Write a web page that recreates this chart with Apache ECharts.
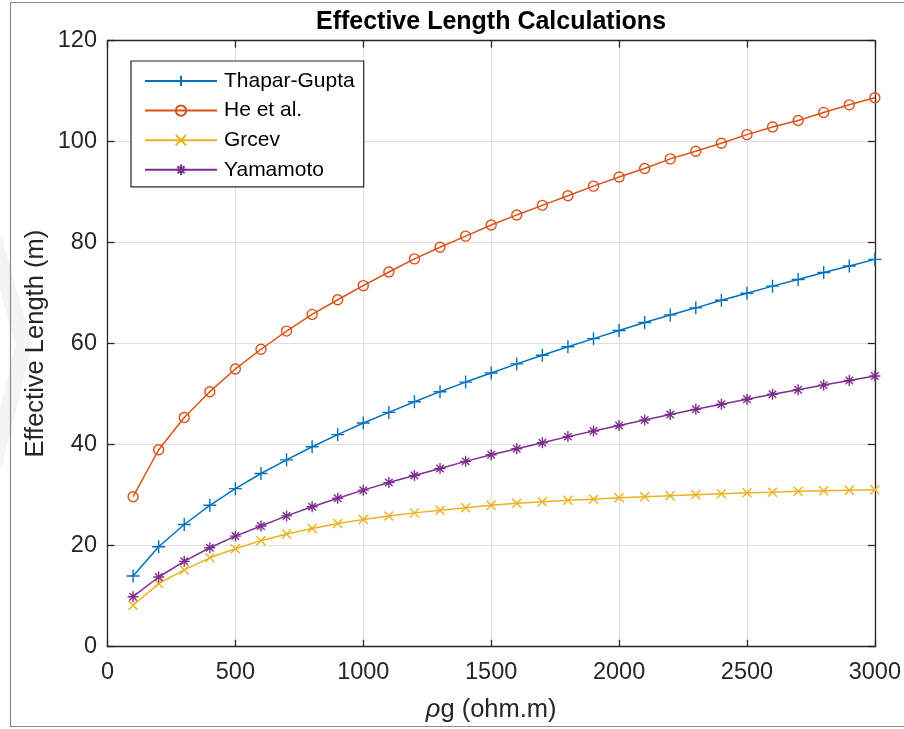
<!DOCTYPE html>
<html>
<head>
<meta charset="utf-8">
<script src="https://cdn.jsdelivr.net/npm/echarts@6/dist/echarts.min.js"></script>
<style>
  html, body { margin: 0; padding: 0; background: #fff; }
  #chart { width: 904px; height: 729px; }
</style>
</head>
<body>
<div id="chart"></div>
<script>
// Soil resistivity (ohm.m)
const rho = [100, 200, 300, 400, 500, 600, 700, 800, 900, 1000,
             1100, 1200, 1300, 1400, 1500, 1600, 1700, 1800, 1900, 2000,
             2100, 2200, 2300, 2400, 2500, 2600, 2700, 2800, 2900, 3000];

// Effective length (m) per method
const thaparGupta = [14.0, 19.8, 24.2, 28.0, 31.3, 34.3, 37.0, 39.6, 42.0, 44.3,
                     46.4, 48.5, 50.5, 52.4, 54.2, 56.0, 57.7, 59.4, 61.0, 62.6,
                     64.2, 65.7, 67.1, 68.6, 70.0, 71.4, 72.7, 74.1, 75.4, 76.7];
const heEtAl = [29.7, 39.0, 45.4, 50.5, 55.0, 58.9, 62.5, 65.8, 68.7, 71.5,
                74.2, 76.8, 79.1, 81.3, 83.5, 85.5, 87.4, 89.3, 91.2, 93.0,
                94.7, 96.6, 98.1, 99.7, 101.4, 102.9, 104.2, 105.8, 107.3, 108.7];
const grcev = [8.2, 12.5, 15.2, 17.6, 19.4, 21.0, 22.3, 23.4, 24.4, 25.2,
               25.9, 26.5, 27.0, 27.5, 28.0, 28.4, 28.7, 29.0, 29.2, 29.5,
               29.7, 29.9, 30.1, 30.3, 30.5, 30.6, 30.8, 30.9, 31.0, 31.1];
const yamamoto = [9.9, 13.8, 16.9, 19.6, 21.9, 23.9, 25.9, 27.7, 29.4, 31.0,
                  32.5, 33.9, 35.3, 36.7, 38.0, 39.2, 40.4, 41.6, 42.7, 43.8,
                  44.9, 46.0, 47.0, 48.0, 49.0, 50.0, 50.9, 51.8, 52.7, 53.6];

const xTicks = [0, 500, 1000, 1500, 2000, 2500, 3000];
const yTicks = [0, 20, 40, 60, 80, 100, 120];

const seriesNames = ['Thapar-Gupta', 'He et al.', 'Grcev', 'Yamamoto'];
const seriesValues = [thaparGupta, heEtAl, grcev, yamamoto];
const colors = ['#0072BD', '#D95319', '#EDB120', '#7E2F8E'];

// Stroke-only marker glyphs
const markers = [
  { symbol: 'path://M5,0 L5,10 M0,5 L10,5', size: 13 },
  { symbol: 'circle', size: 10 },
  { symbol: 'path://M0,0 L10,10 M0,10 L10,0', size: 9 },
  { symbol: 'path://M5,0 L5,10 M0,5 L10,5 M1.6,1.6 L8.4,8.4 M1.6,8.4 L8.4,1.6', size: 11 }
];

const FONT = '"Liberation Sans", Arial, sans-serif';
const AXIS_COLOR = '#262626';
const TICK_FONT = 23.5;
const LABEL_FONT = 25.5;

const chart = echarts.init(document.getElementById('chart'), null, { renderer: 'canvas' });

const series = seriesNames.map((name, i) => ({
  name: name,
  type: 'line',
  xAxisIndex: 0,
  yAxisIndex: 0,
  data: rho.map((r, k) => [r, seriesValues[i][k]]),
  symbol: markers[i].symbol,
  symbolSize: markers[i].size,
  showAllSymbol: true,
  smooth: false,
  lineStyle: { color: colors[i], width: 1.5 },
  itemStyle: { color: 'rgba(255,255,255,0)', borderColor: colors[i], borderWidth: 1.4 },
  emphasis: { disabled: true },
  animation: false,
  z: 3
}));

const baseAxisLabel = { color: AXIS_COLOR, fontFamily: FONT, fontSize: TICK_FONT };

const option = {
  backgroundColor: '#ffffff',
  animation: false,
  grid: {
    left: 107.5, right: 27.3, top: 40.7, bottom: 82.3,
    show: false
  },
  legend: {
    data: seriesNames,
    orient: 'vertical',
    left: 131,
    top: 61,
    itemWidth: 72,
    itemHeight: 13,
    itemGap: 8.6,
    padding: [9.5, 9, 6.5, 13],
    borderColor: AXIS_COLOR,
    borderWidth: 1.2,
    backgroundColor: '#fff',
    selectedMode: false,
    textStyle: { fontFamily: FONT, fontSize: 21, lineHeight: 21, color: '#000', padding: [0, 0, 0, 2] }
  },
  xAxis: [
    {
      type: 'value', min: 0, max: 3000, interval: 500, position: 'bottom',
      name: '{i|ρ}g (ohm.m)',
      nameLocation: 'middle',
      nameGap: 50,
      nameMoveOverlap: false,
      nameTextStyle: {
        fontFamily: FONT, fontSize: LABEL_FONT, color: AXIS_COLOR,
        rich: { i: { fontFamily: FONT, fontSize: LABEL_FONT, fontStyle: 'italic', color: AXIS_COLOR } }
      },
      axisLine: { lineStyle: { color: AXIS_COLOR, width: 1.3 } },
      axisTick: { inside: true, length: 7, lineStyle: { color: AXIS_COLOR, width: 1.3 } },
      axisLabel: Object.assign({ margin: 13.5, formatter: v => (xTicks.includes(v) ? String(v) : '') }, baseAxisLabel),
      splitLine: { show: true, lineStyle: { color: '#dfdfdf', width: 1 } }
    },
    {
      type: 'value', min: 0, max: 3000, interval: 500, position: 'top',
      axisLine: { onZero: false, lineStyle: { color: AXIS_COLOR, width: 1.3 } },
      axisTick: { inside: true, length: 7, lineStyle: { color: AXIS_COLOR, width: 1.3 } },
      axisLabel: { show: false },
      splitLine: { show: false }
    }
  ],
  yAxis: [
    {
      type: 'value', min: 0, max: 120, interval: 20, position: 'left',
      name: 'Effective Length (m)',
      nameLocation: 'middle',
      nameGap: 59,
      nameMoveOverlap: false,
      nameRotate: 90,
      nameTextStyle: { fontFamily: FONT, fontSize: LABEL_FONT, color: AXIS_COLOR },
      axisLine: { lineStyle: { color: AXIS_COLOR, width: 1.3 } },
      axisTick: { inside: true, length: 7, lineStyle: { color: AXIS_COLOR, width: 1.3 } },
      axisLabel: Object.assign({ margin: 10.5, formatter: v => (yTicks.includes(v) ? String(v) : '') }, baseAxisLabel),
      splitLine: { show: true, lineStyle: { color: '#dfdfdf', width: 1 } }
    },
    {
      type: 'value', min: 0, max: 120, interval: 20, position: 'right',
      axisLine: { show: true, onZero: false, lineStyle: { color: AXIS_COLOR, width: 1.3 } },
      axisTick: { show: true, inside: true, length: 7, lineStyle: { color: AXIS_COLOR, width: 1.3 } },
      axisLabel: { show: false },
      splitLine: { show: false }
    }
  ],
  graphic: [
    // Faint backdrop chevron along the left edge
    {
      type: 'polyline',
      silent: true,
      z: -10,
      shape: { points: [[-6, 240], [24, 345], [-6, 465]] },
      style: { stroke: '#f4f4f4', lineWidth: 16, fill: null }
    },
    // Chart title
    {
      type: 'text',
      silent: true,
      x: 491,
      y: 22,
      style: {
        text: 'Effective Length Calculations',
        font: 'bold 25px "Liberation Sans", Arial, sans-serif',
        fill: '#000',
        textAlign: 'center',
        textVerticalAlign: 'middle'
      }
    },
    // Outer frame of the figure
    {
      type: 'polyline',
      silent: true,
      z: 100,
      shape: { points: [[904, 2.5], [10.5, 2.5], [10.5, 726.5], [904, 726.5]] },
      style: { stroke: '#8a8a8a', lineWidth: 1.2, fill: null }
    }
  ],
  series: series
};

chart.setOption(option);
</script>
</body>
</html>
